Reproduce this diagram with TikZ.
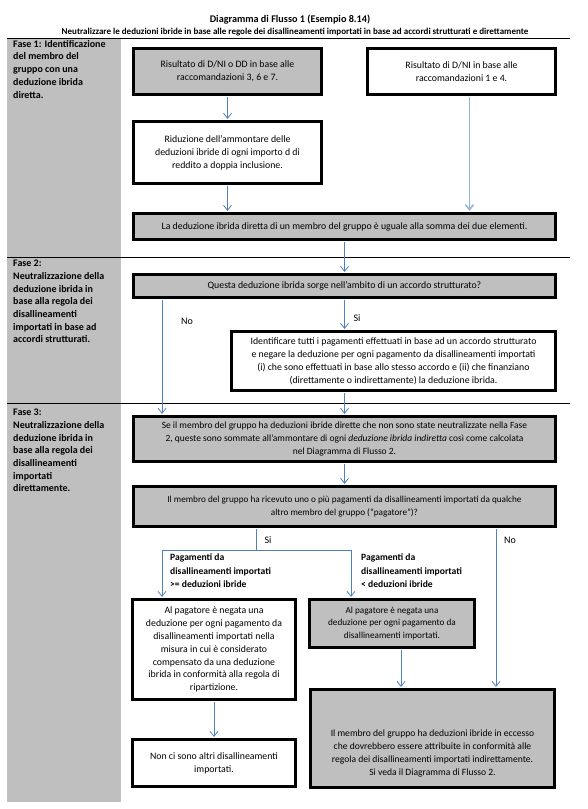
\documentclass[tikz,border=0pt]{standalone}
\usepackage{fontspec}
\setmainfont{Carlito}
\usetikzlibrary{arrows.meta,calc}
\definecolor{BoxGray}{RGB}{191,191,191}
\definecolor{ArrowBlue}{RGB}{79,129,189}
\definecolor{ArrowLight}{RGB}{149,179,215}

\begin{document}
\begin{tikzpicture}[
x=1pt,y=-1pt,
box/.style={draw,line width=2.6pt,inner sep=1pt,align=center,font=\fontsize{9.8}{12.9}\selectfont},
shaded/.style={box,fill=BoxGray},
boxsize/.style 2 args={minimum width=#1pt,minimum height=#2pt},
faseText/.style={anchor=north west,inner sep=0pt,align=left,font=\bfseries\fontsize{10}{12.7}\selectfont},
branchText/.style={anchor=north west,inner sep=0pt,align=left,font=\bfseries\fontsize{9.6}{13.4}\selectfont},
lbl/.style={inner sep=0pt,font=\fontsize{10}{11}\selectfont},
link/.style={line width=0.8pt,draw=ArrowBlue},
arrow/.style={link,-{Straight Barb[length=5pt,width=8pt]},shorten >=1.3pt,shorten <=1.3pt}
]
\useasboundingbox (0,0) rectangle (587,809);
% phase column and rules
\fill[BoxGray] (7,38) rectangle (121,802);
\draw[line width=0.8pt] (7,38) -- (570,38);
\draw[line width=0.8pt] (7,257) -- (570,257);
\draw[line width=0.8pt] (7,403) -- (570,403);

\node[font=\bfseries\fontsize{10.2}{12}\selectfont] (title) at (290,20) {Diagramma di Flusso 1 (Esempio 8.14)};
\node[font=\bfseries\fontsize{9}{11}\selectfont] (subtitle) at (295,32.5) {Neutralizzare le deduzioni ibride in base alle regole dei disallineamenti importati in base ad accordi strutturati e direttamente};

\node[faseText] (fase1) at (13,40) {Fase 1: Identificazione\\del membro del\\gruppo con una\\deduzione ibrida\\diretta.};
\node[faseText] (fase2) at (13,260) {Fase 2:\\Neutralizzazione della\\deduzione ibrida in\\base alla regola dei\\disallineamenti\\importati in base ad\\accordi strutturati.};
\node[faseText] (fase3) at (13,409) {Fase 3:\\Neutralizzazione della\\deduzione ibrida in\\base alla regola dei\\disallineamenti\\importati\\direttamente.};

% Fase 1
\node[shaded,boxsize={188}{46}] (A) at (227.5,71.5) {Risultato di D/NI o DD in base alle\\raccomandazioni 3, 6 e 7.};
\node[box,boxsize={188}{46}] (B) at (461.5,71.5) {Risultato di D/NI in base alle\\raccomandazioni 1 e 4.};
\node[box,boxsize={188}{62}] (C) at (227.5,152.5) {Riduzione dell’ammontare delle\\deduzioni ibride di ogni importo d di\\reddito a doppia inclusione.};
\node[shaded,boxsize={422}{26}] (D) at (344.5,226.5) {La deduzione ibrida diretta di un membro del gruppo è uguale alla somma dei due elementi.};
% Fase 2
\node[shaded,boxsize={422}{23}] (E) at (344.5,286) {Questa deduzione ibrida sorge nell’ambito di un accordo strutturato?};
\node[box,boxsize={324}{59}] (F) at (393.5,361) {Identificare tutti i pagamenti effettuati in base ad un accordo strutturato\\e negare la deduzione per ogni pagamento da disallineamenti importati\\(i) che sono effettuati in base allo stesso accordo e (ii) che finanziano\\(direttamente o indirettamente) la deduzione ibrida.};
% Fase 3
\node[shaded,boxsize={422}{45},font=\fontsize{9.5}{12.9}\selectfont] (G) at (344.5,439) {Se il membro del gruppo ha deduzioni ibride dirette che non sono state neutralizzate nella Fase\\2, queste sono sommate all’ammontare di ogni \textit{deduzione ibrida indiretta} così come calcolata\\nel Diagramma di Flusso 2.};
\node[shaded,boxsize={422}{40},font=\fontsize{9.2}{12.9}\selectfont] (H) at (344.5,506.5) {Il membro del gruppo ha ricevuto uno o più pagamenti da disallineamenti importati da qualche\\altro membro del gruppo (“pagatore”)?};
\node[box,boxsize={163}{100}] (I) at (214,649.5) {Al pagatore è negata una\\deduzione per ogni pagamento da\\disallineamenti importati nella\\misura in cui è considerato\\compensato da una deduzione\\ibrida in conformità alla regola di\\ripartizione.};
\node[shaded,boxsize={165}{48},font=\fontsize{9.2}{12.9}\selectfont] (J) at (392,623.5) {Al pagatore è negata una\\deduzione per ogni pagamento da\\disallineamenti importati.};
\node[box,boxsize={163}{47}] (K) at (214,763) {Non ci sono altri disallineamenti\\importati.};
\node[shaded,boxsize={244}{98}] (L) at (432.5,738.5) {};
\node[align=center,inner sep=0pt,font=\fontsize{9.6}{12.9}\selectfont] (Ltext) at ([yshift=-15pt]L.center) {Il membro del gruppo ha deduzioni ibride in eccesso\\che dovrebbero essere attribuite in conformità alle\\regola dei disallineamenti importati indirettamente.\\Si veda il Diagramma di Flusso 2.};

\coordinate (noX) at (162,0);
\coordinate (split) at (256,550);
\coordinate (brL) at (162,550);
\coordinate (brR) at (351,550);
\coordinate (noH) at (496,0);
\coordinate (jx) at (401,0);

% connectors
\draw[arrow] (A) -- (C);
\draw[arrow] (C.south) -- (C.south |- D.north);
\draw[arrow,draw=ArrowLight,line width=1.6pt] ([xshift=8pt]B.south) -- ([xshift=8pt]B.south |- D.north);
\draw[arrow] (D) -- (E);
\draw[arrow] (E.south) -- (E.south |- F.north);
\draw[arrow] (E.south -| noX) -- (G.north -| noX);
\draw[arrow] (F.south -| E.south) -- (G.north -| E.south);
\draw[arrow] (G) -- (H);
\draw[link,shorten <=1.3pt] (H.south -| split) -- (split);
\draw[link] (brL) -- (brR);
\draw[arrow,shorten <=0pt] (brL) -- (brL |- I.north);
\draw[arrow,shorten <=0pt] (brR) -- (brR |- J.north);
\draw[arrow] (H.south -| noH) -- (L.north -| noH);
\draw[arrow] (J.south -| jx) -- (L.north -| jx);
\draw[arrow] (I.south -| K.north) -- (K.north);

\node[lbl] (noE) at (187,321) {No};
\node[lbl] (siE) at (357,318) {Si};
\node[lbl] (siH) at (268,540) {Si};
\node[lbl] (noHlbl) at (510,540) {No};
\node[branchText] (geLbl) at (170,554) {Pagamenti da\\disallineamenti importati\\>= deduzioni ibride};
\node[branchText] (ltLbl) at (361,554) {Pagamenti da\\disallineamenti importati\\< deduzioni ibride};
\end{tikzpicture}
\end{document}
